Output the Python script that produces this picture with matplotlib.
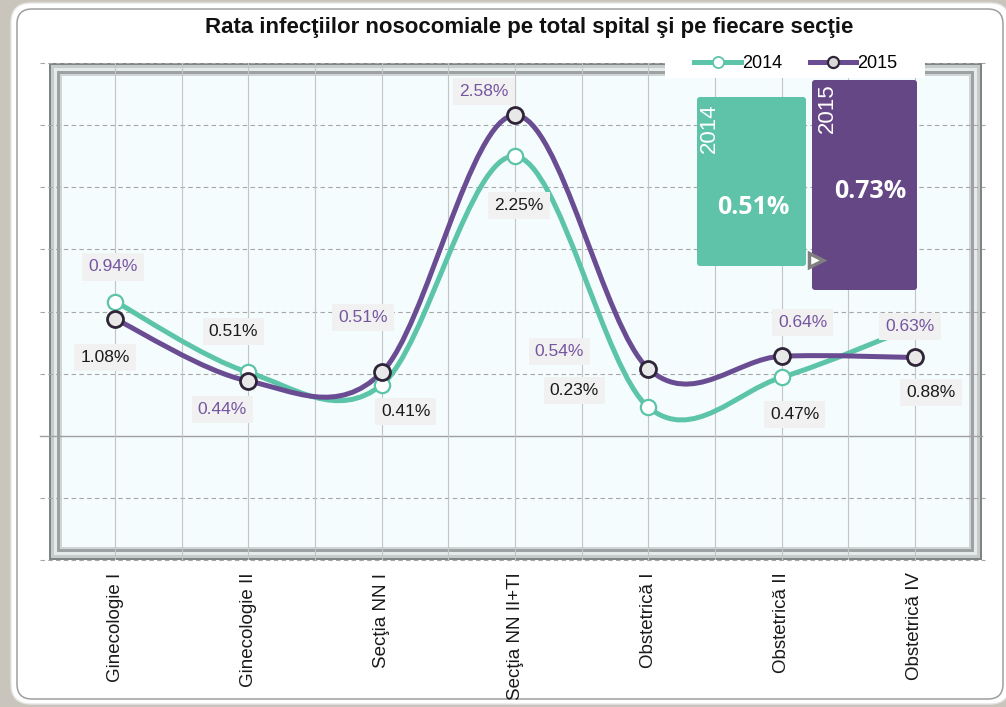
import matplotlib
matplotlib.use('Agg')
import matplotlib.pyplot as plt
import numpy as np
from matplotlib.path import Path
from matplotlib.patches import PathPatch, Rectangle, FancyBboxPatch
from matplotlib.lines import Line2D
from matplotlib.transforms import IdentityTransform

# ---------------- data ----------------
categories = ['Ginecologie I', 'Ginecologie II', 'Secţia NN I', 'Secţia NN II+TI',
              'Obstetrică I', 'Obstetrică II', 'Obstetrică IV']
rate_2014 = [1.08, 0.51, 0.41, 2.25, 0.23, 0.47, 0.88]
rate_2015 = [0.94, 0.44, 0.51, 2.58, 0.54, 0.64, 0.63]
series_names = ['2014', '2015']
total_2014 = 0.51
total_2015 = 0.73
title = 'Rata infecţiilor nosocomiale pe total spital şi pe fiecare secţie'

# ---------------- layout / style ----------------
off_2014 = [(-10, -56), (-15, 41), (24, -27), (4, -49), (-74, 17), (13, -37), (16, -66)]
off_2015 = [(-2, 52), (-26, -28), (-19, 55), (-31, 24), (-89, 17), (21, 34), (-5, 31)]
TEAL = '#5CC4A8'
PURPLE = '#6A4C93'
TEAL_BOX = '#5EC3A9'
PURPLE_BOX = '#654785'
LABEL_PURPLE = '#7655A0'

plt.rcParams['font.family'] = ['Liberation Sans', 'DejaVu Sans']

W_PX, H_PX = 1006, 707
fig = plt.figure(figsize=(W_PX / 100, H_PX / 100), dpi=100)
fig.patch.set_facecolor('#C9C5BD')


def fx(px):
    return px / W_PX


def fy(py):
    return 1 - py / H_PX


def disp(px, py):
    return px, H_PX - py


# white rounded panel
panel = FancyBboxPatch(disp(11, 704), 1010 - 11, 704 - 3,
                       boxstyle='round,pad=0,rounding_size=20',
                       facecolor='white', edgecolor='#E6E6E6', lw=1,
                       transform=IdentityTransform(), zorder=-5)
fig.add_artist(panel)
panel2 = FancyBboxPatch(disp(17, 699), 1003 - 17, 699 - 9,
                        boxstyle='round,pad=0,rounding_size=15',
                        facecolor='none', edgecolor='#9E9E9E', lw=1.1,
                        transform=IdentityTransform(), zorder=-4)
fig.add_artist(panel2)

# axes
L, R, T, B = 48.5, 981.5, 63, 560
ax = fig.add_axes([fx(L), fy(B), (R - L) / W_PX, (B - T) / H_PX])
ax.set_facecolor('none')
for s in ax.spines.values():
    s.set_visible(False)
ax.set_xlim(-0.5, len(categories) - 0.5)
ax.set_ylim(-1, 3)

AW, AH = R - L, B - T
layers = [(0, '#7E8484'), (2, '#C6CBCB'), (5, '#E6EAEA'), (8, '#9CA2A2'),
          (11, '#D0D4D4'), (13, '#F4FCFD')]
for i, (p, c) in enumerate(layers):
    ax.add_patch(Rectangle((p / AW, p / AH), 1 - 2 * p / AW, 1 - 2 * p / AH,
                           transform=ax.transAxes, facecolor=c, edgecolor='none',
                           zorder=0.1 + i * 0.01))

# gridlines
for yv in np.arange(-1, 3.01, 0.5):
    if abs(yv) < 1e-9:
        ax.axhline(yv, xmin=-0.009, xmax=1.0, color='#A0A0A0', lw=1.0,
                   zorder=1, clip_on=False)
    else:
        ax.axhline(yv, xmin=-0.009, xmax=1.004, color='#A6A6A6', lw=0.8,
                   dashes=(4, 3), zorder=1, clip_on=False)
for xv in np.arange(0, len(categories) - 0.99, 0.5):
    ax.axvline(xv, color='#C4C4C4', lw=0.8, zorder=1)


def smooth_path(xs, ys):
    pts = np.column_stack([xs, ys]).astype(float)
    n = len(pts)
    verts = [pts[0]]
    codes = [Path.MOVETO]
    for i in range(n - 1):
        p0 = pts[i - 1] if i > 0 else pts[i]
        p1, p2 = pts[i], pts[i + 1]
        p3 = pts[i + 2] if i + 2 < n else pts[i + 1]
        c1 = p1 + (p2 - p0) / 6.0
        c2 = p2 - (p3 - p1) / 6.0
        verts += [c1, c2, p2]
        codes += [Path.CURVE4] * 3
    return Path(verts, codes)


x = np.arange(len(categories))
for vals, col in [(rate_2014, TEAL), (rate_2015, PURPLE)]:
    ax.add_patch(PathPatch(smooth_path(x, vals), facecolor='none', edgecolor=col,
                           lw=3.6, capstyle='round', joinstyle='round', zorder=3))

ax.plot(x, rate_2014, linestyle='none', marker='o', markersize=11,
        mfc='white', mec=TEAL, mew=1.6, zorder=4)
ax.plot(x, rate_2015, linestyle='none', marker='o', markersize=11.5,
        mfc='#E8E8E8', mec='#2F2438', mew=2.0, zorder=4)

for vals, offs, col in [(rate_2014, off_2014, '#1A1A1A'), (rate_2015, off_2015, LABEL_PURPLE)]:
    for xi, v, (dx, dy) in zip(x, vals, offs):
        ax.annotate(f'{v:.2f}%', (xi, v), xytext=(dx, dy), textcoords='offset pixels',
                    ha='center', va='center', fontsize=12.5, color=col, zorder=6,
                    bbox=dict(boxstyle='square,pad=0.35', facecolor='#F1F1F1',
                              edgecolor='none'))

ax.set_yticks([])
ax.set_xticks(x)
ax.set_xticklabels(categories, rotation=90, fontsize=13.5, color='#1A1A1A', va='top')
ax.tick_params(axis='x', length=0, pad=9)

# legend (white backing box + entries)
ax.add_patch(Rectangle(disp(665, 78), 925 - 665, 78 - 50, transform=IdentityTransform(),
                       facecolor='white', edgecolor='none', zorder=6.5, clip_on=False))
handles = [Line2D([], [], color=TEAL, lw=3.6, marker='o', markersize=8,
                  mfc='white', mec=TEAL, mew=1.3),
           Line2D([], [], color=PURPLE, lw=3.6, marker='o', markersize=8,
                  mfc='#D8D8D8', mec='#2F2438', mew=1.6)]
leg = ax.legend(handles, series_names, loc='center', bbox_to_anchor=(fx(796), fy(64)),
                bbox_transform=fig.transFigure, ncol=2, frameon=False,
                fontsize=13, handlelength=2.6, handletextpad=0.05, columnspacing=1.5,
                borderpad=0.35)
leg.set_zorder(7)

# title
fig.text(fx(529), fy(28), title, fontsize=16, weight='bold', ha='center', va='center',
         color='#111111')

# callout boxes with totals
box1 = FancyBboxPatch(disp(697, 266), 806 - 697, 266 - 97,
                      boxstyle='round,pad=0,rounding_size=3', facecolor=TEAL_BOX,
                      edgecolor='none', transform=IdentityTransform(), zorder=8)
box2 = FancyBboxPatch(disp(812, 290), 917 - 812, 290 - 80,
                      boxstyle='round,pad=0,rounding_size=3', facecolor=PURPLE_BOX,
                      edgecolor='none', transform=IdentityTransform(), zorder=8)
fig.add_artist(box1)
fig.add_artist(box2)
fig.text(fx(709), fy(128), series_names[0], rotation=90, color='white', fontsize=16,
         ha='center', va='center', zorder=9)
fig.text(fx(827), fy(108), series_names[1], rotation=90, color='white', fontsize=16,
         ha='center', va='center', zorder=9)
fig.text(fx(753), fy(208), f'{total_2014:.2f}%', color='white', fontsize=18,
         weight='bold', family=['Open Sans', 'DejaVu Sans'], ha='center', va='center', zorder=9)
fig.text(fx(870), fy(192), f'{total_2015:.2f}%', color='white', fontsize=18,
         weight='bold', family=['Open Sans', 'DejaVu Sans'], ha='center', va='center', zorder=9)
fig.add_artist(Line2D([fx(816)], [fy(260)], marker='>', markersize=10, mfc='white',
                      mec='#7F7F7F', mew=2.5, transform=fig.transFigure, zorder=10))

fig.savefig('out.png', dpi=100, facecolor=fig.get_facecolor())
